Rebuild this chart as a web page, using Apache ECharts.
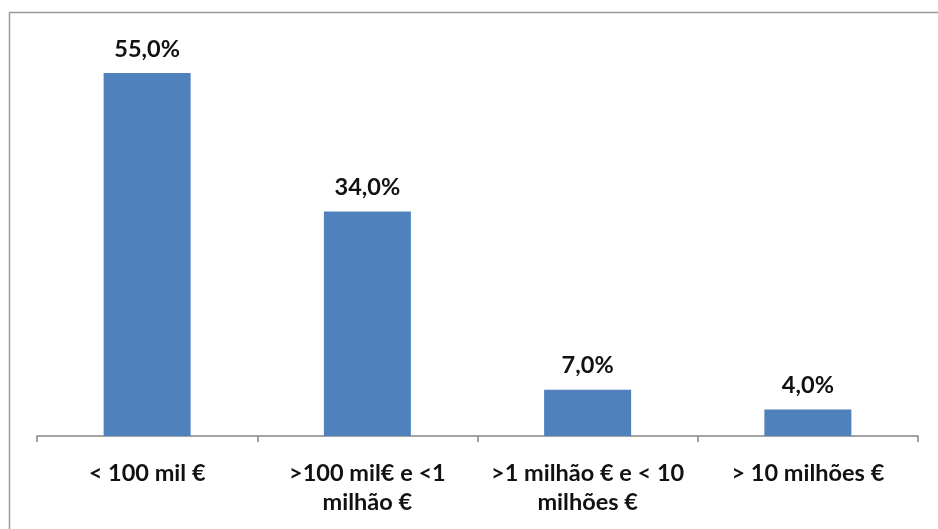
<!DOCTYPE html>
<html>
<head>
<meta charset="utf-8">
<script src="https://cdn.jsdelivr.net/npm/echarts@6/dist/echarts.min.js"></script>
<style>
html,body{margin:0;padding:0;background:#fff;}
#c{width:938px;height:529px;}
</style>
</head>
<body>
<div id="c"></div>
<script>
const categories = ["< 100 mil €", ">100 mil€ e <1\nmilhão €", ">1 milhão € e < 10\nmilhões €", "> 10 milhões €"];
const values = [55.0, 34.0, 7.0, 4.0];

const chart = echarts.init(document.getElementById('c'));
chart.setOption({
  animation: false,
  backgroundColor: '#fff',
  graphic: [{
    type: 'rect',
    shape: { x: 9.5, y: 12.5, width: 1000, height: 1000 },
    style: { fill: 'none', stroke: '#9a9a9a', lineWidth: 1.5 },
    silent: true,
    z: -1
  }],
  grid: { left: 37, right: 20, top: 40, bottom: 93 },
  xAxis: {
    type: 'category',
    data: categories,
    axisLine: { lineStyle: { color: '#868686', width: 1.5 } },
    axisTick: { show: true, length: 6, lineStyle: { color: '#868686', width: 1.5 } },
    axisLabel: {
      interval: 0,
      margin: 23,
      color: '#111',
      fontFamily: 'Lato',
      fontWeight: 'bold',
      fontSize: 23.5,
      lineHeight: 29
    }
  },
  yAxis: {
    type: 'value',
    min: 0,
    max: 60,
    show: false,
    splitLine: { show: false }
  },
  series: [{
    type: 'bar',
    data: values,
    barWidth: 87,
    itemStyle: { color: '#4F81BD' },
    label: {
      show: true,
      position: 'top',
      distance: 12,
      color: '#111',
      fontFamily: 'Lato',
      fontWeight: 'bold',
      fontSize: 23.5,
      formatter: p => p.value.toFixed(1).replace('.', ',') + '%'
    }
  }]
});
</script>
</body>
</html>
